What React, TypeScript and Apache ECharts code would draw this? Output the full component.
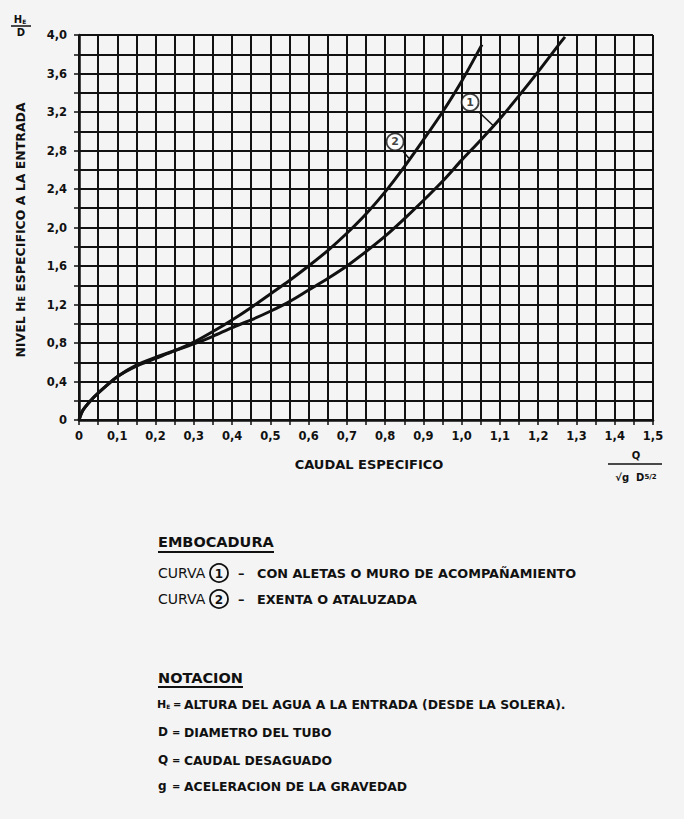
import { useEffect, useRef } from "react";
import * as echarts from "echarts";

// Curva 1 — con aletas o muro de acompañamiento
const curve1X = [0, 0.01, 0.03, 0.05, 0.1, 0.15, 0.2, 0.25, 0.3, 0.35, 0.4, 0.45, 0.5, 0.55, 0.6, 0.65, 0.7, 0.75, 0.8, 0.85, 0.9, 0.95, 1.0, 1.05, 1.1, 1.15, 1.2, 1.25, 1.27];
const curve1Y = [0, 0.1, 0.2, 0.28, 0.45, 0.57, 0.65, 0.72, 0.79, 0.87, 0.96, 1.04, 1.13, 1.23, 1.35, 1.47, 1.6, 1.75, 1.91, 2.09, 2.28, 2.48, 2.7, 2.91, 3.13, 3.37, 3.62, 3.88, 3.98];

// Curva 2 — exenta o ataluzada
const curve2X = [0, 0.01, 0.03, 0.05, 0.1, 0.15, 0.2, 0.25, 0.3, 0.35, 0.4, 0.45, 0.5, 0.55, 0.6, 0.65, 0.7, 0.75, 0.8, 0.85, 0.9, 0.95, 1.0, 1.053];
const curve2Y = [0, 0.1, 0.2, 0.28, 0.45, 0.56, 0.64, 0.72, 0.81, 0.92, 1.04, 1.17, 1.31, 1.45, 1.6, 1.76, 1.94, 2.14, 2.37, 2.63, 2.91, 3.2, 3.52, 3.9];

// curve markers (circled numbers) and their leader lines
const markerLabels = ["1", "2"];
const markerX = [1.022, 0.826];
const markerY = [3.3, 2.89];
const leader1 = [[1.045, 3.2], [1.085, 3.05]];
const leader2 = [[0.845, 2.8], [0.862, 2.72]];

const xMin = 0, xMax = 1.5, xStep = 0.05;
const yMin = 0, yMax = 4.0, yStep = 0.2;

const fmtNum = (v: number) => (Math.abs(v) < 1e-9 ? "0" : v.toFixed(1).replace(".", ","));

const FONT = "DejaVu Sans";

export default function App() {
  const ref = useRef<HTMLDivElement>(null);
  useEffect(() => {
    document.body.style.margin = "0";
    const chart = echarts.init(ref.current!, undefined, { renderer: "svg" });
    const zip = (xs: number[], ys: number[]) => xs.map((x, i) => [x, ys[i]]);
    const curveStyle = { color: "#111", width: 3 };
    const txt = (x: number, y: number, text: string, size: number, weight: string = "bold", align: string = "left") => ({
      type: "text", x, y,
      style: { text, fontFamily: FONT, fontSize: size, fontWeight: weight, fill: "#111", align, verticalAlign: "middle" },
    });
    const circled = (cx: number, cy: number, label: string) => [
      { type: "circle", shape: { cx, cy, r: 9 }, style: { fill: "none", stroke: "#111", lineWidth: 1.8 } },
      { type: "text", x: cx, y: cy + 1, style: { text: label, fontFamily: FONT, fontSize: 12, fontWeight: "bold", fill: "#111", align: "center", verticalAlign: "middle" } },
    ];
    chart.setOption({
      animation: false,
      backgroundColor: "#f4f4f4",
      grid: { left: 79, right: 31, top: 35, bottom: 399, containLabel: false },
      xAxis: {
        type: "value", min: xMin, max: xMax, interval: xStep,
        axisLine: { show: true, lineStyle: { color: "#111", width: 2.5 } },
        axisTick: { show: true, length: 5, lineStyle: { color: "#111", width: 1.5 } },
        splitLine: { show: true, lineStyle: { color: "#111", width: 2 } },
        axisLabel: {
          margin: 10, color: "#111", fontFamily: FONT, fontWeight: "bold", fontSize: 11.5,
          formatter: (v: number) => (Math.round(v * 100) % 10 === 0 ? fmtNum(v) : ""),
        },
      },
      yAxis: {
        type: "value", min: yMin, max: yMax, interval: yStep,
        axisLine: { show: true, lineStyle: { color: "#111", width: 2.5 } },
        axisTick: { show: true, length: 5, lineStyle: { color: "#111", width: 1.5 } },
        splitLine: { show: true, lineStyle: { color: "#111", width: 2 } },
        axisLabel: {
          margin: 12, color: "#111", fontFamily: FONT, fontWeight: "bold", fontSize: 11.5,
          formatter: (v: number) => (Math.round(v * 10) % 4 === 0 ? fmtNum(v) : ""),
        },
      },
      series: [
        { type: "line", name: "Curva 1", data: zip(curve1X, curve1Y), smooth: 0.3, showSymbol: false, lineStyle: curveStyle },
        { type: "line", name: "Curva 2", data: zip(curve2X, curve2Y), smooth: 0.3, showSymbol: false, lineStyle: curveStyle },
        { type: "line", data: leader1, showSymbol: false, lineStyle: { color: "#111", width: 1.5 } },
        { type: "line", data: leader2, showSymbol: false, lineStyle: { color: "#111", width: 1.5 } },
        {
          type: "scatter", symbol: "circle", symbolSize: 17,
          data: markerX.map((x, i) => ({ value: [x, markerY[i]], name: markerLabels[i] })),
          itemStyle: { color: "#fff", borderColor: "#111", borderWidth: 1.8 },
          label: { show: true, position: "inside", formatter: (p: any) => p.name, color: "#111", fontFamily: FONT, fontSize: 11, fontWeight: "bold" },
          z: 5,
        },
      ],
      graphic: [
        // He / D at top-left
        { type: "text", x: 20, y: 19, style: { text: "{a|H}{s|E}", rich: { a: { fontFamily: FONT, fontSize: 10, fontWeight: "bold", fill: "#111" }, s: { fontFamily: FONT, fontSize: 6, fontWeight: "bold", fill: "#111", verticalAlign: "bottom" } }, align: "center", verticalAlign: "middle" } },
        { type: "line", shape: { x1: 11, y1: 26, x2: 31, y2: 26 }, style: { stroke: "#111", lineWidth: 1.5 } },
        txt(21, 32, "D", 10, "bold", "center"),
        // vertical axis title
        {
          type: "text", x: 20, y: 230, rotation: Math.PI / 2,
          style: {
            text: "{a|NIVEL H}{s|E}{a| ESPECIFICO A LA ENTRADA}",
            rich: {
              a: { fontFamily: FONT, fontSize: 12.5, fontWeight: "bold", fill: "#111" },
              s: { fontFamily: FONT, fontSize: 8, fontWeight: "bold", fill: "#111", verticalAlign: "bottom" },
            },
            align: "center", verticalAlign: "middle",
          },
        },
        // horizontal axis title
        txt(369, 464, "CAUDAL ESPECIFICO", 13, "bold", "center"),
        txt(636, 455, "Q", 10, "bold", "center"),
        { type: "line", shape: { x1: 608, y1: 464, x2: 662, y2: 464 }, style: { stroke: "#111", lineWidth: 1.5 } },
        {
          type: "text", x: 636, y: 477,
          style: {
            text: "{a|√g  D}{b|5/2}",
            rich: {
              a: { fontFamily: FONT, fontSize: 10, fontWeight: "bold", fill: "#111" },
              b: { fontFamily: FONT, fontSize: 7, fontWeight: "bold", fill: "#111" },
            },
            align: "center", verticalAlign: "middle",
          },
        },
        // EMBOCADURA block
        txt(158, 542, "EMBOCADURA", 14.5, "bold"),
        { type: "line", shape: { x1: 158, y1: 552, x2: 274, y2: 552 }, style: { stroke: "#111", lineWidth: 2 } },
        txt(158, 573, "CURVA", 14, "normal"),
        ...circled(219, 573, "1"),
        txt(238, 573, "–", 13, "bold"),
        txt(257, 573, "CON ALETAS O MURO DE ACOMPAÑAMIENTO", 12.8, "bold"),
        txt(158, 599, "CURVA", 14, "normal"),
        ...circled(219, 599, "2"),
        txt(238, 599, "–", 13, "bold"),
        txt(257, 599, "EXENTA O ATALUZADA", 12.8, "bold"),
        // NOTACION block
        txt(158, 678, "NOTACION", 14.5, "bold"),
        { type: "line", shape: { x1: 158, y1: 687, x2: 243, y2: 687 }, style: { stroke: "#111", lineWidth: 2 } },
        {
          type: "text", x: 157, y: 704,
          style: {
            text: "{a|H}{s|E}",
            rich: {
              a: { fontFamily: FONT, fontSize: 11, fontWeight: "bold", fill: "#111" },
              s: { fontFamily: FONT, fontSize: 6, fontWeight: "bold", fill: "#111", verticalAlign: "bottom" },
            },
            align: "left", verticalAlign: "middle",
          },
        },
        txt(173, 704, "=", 10, "bold"),
        txt(184, 704, "ALTURA DEL AGUA A LA ENTRADA (DESDE LA SOLERA).", 12.4, "bold"),
        txt(158, 732, "D", 12, "bold"),
        txt(172, 732, "=", 10, "bold"),
        txt(184, 732, "DIAMETRO DEL TUBO", 12.4, "bold"),
        txt(158, 760, "Q", 12, "bold"),
        txt(172, 760, "=", 10, "bold"),
        txt(184, 760, "CAUDAL DESAGUADO", 12.4, "bold"),
        txt(158, 786, "g", 12, "bold"),
        txt(172, 786, "=", 10, "bold"),
        txt(184, 786, "ACELERACION DE LA GRAVEDAD", 12.4, "bold"),
      ],
    });
    return () => chart.dispose();
  }, []);
  return <div ref={ref} style={{ width: 684, height: 819 }} />;
}
